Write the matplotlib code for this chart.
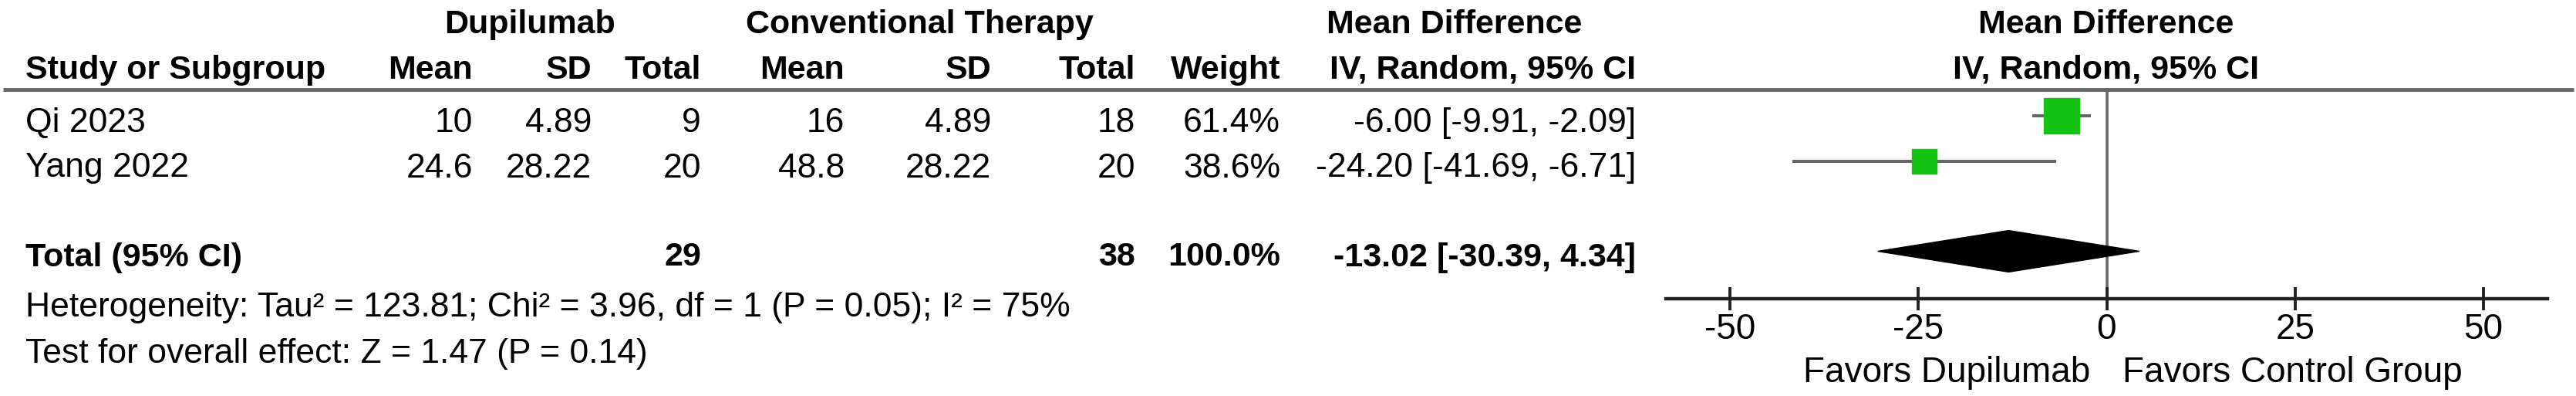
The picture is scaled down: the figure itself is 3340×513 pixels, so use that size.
import matplotlib.pyplot as plt

plt.rcParams['font.family'] = ['Liberation Sans', 'DejaVu Sans']

studies = ['Qi 2023', 'Yang 2022']
dup_mean = [10, 24.6]
dup_sd = [4.89, 28.22]
dup_n = [9, 20]
ctl_mean = [16, 48.8]
ctl_sd = [4.89, 28.22]
ctl_n = [18, 20]
weight = [61.4, 38.6]
md = [-6.00, -24.20]
ci_lo = [-9.91, -41.69]
ci_hi = [-2.09, -6.71]

total_dup = 29
total_ctl = 38
pooled = [-13.02, -30.39, 4.34]
heterogeneity = 'Heterogeneity: Tau² = 123.81; Chi² = 3.96, df = 1 (P = 0.05); I² = 75%'
overall = 'Test for overall effect: Z = 1.47 (P = 0.14)'
xticks = [-50, -25, 0, 25, 50]

W, H = 3341, 513
fig = plt.figure(figsize=(W / 100, H / 100), dpi=100)

# text layer in pixel coordinates
tab = fig.add_axes([0, 0, 1, 1])
tab.set_xlim(0, W)
tab.set_ylim(H, 0)
tab.axis('off')

ROW0, STEP = 150, 58.5   # pixel centre of first study row, row spacing
def ypx(i):
    return ROW0 + STEP * i

HB, RG = 31, 32
col_right = [613, 767, 909, 1095, 1285, 1472, 1660, 2121]

# group headers
tab.text(687, 43, 'Dupilumab', ha='center', va='baseline', fontsize=HB, fontweight='bold')
tab.text(1192, 43, 'Conventional Therapy', ha='center', va='baseline', fontsize=HB, fontweight='bold')
tab.text(1720, 43, 'Mean Difference', ha='left', va='baseline', fontsize=HB, fontweight='bold')
tab.text(2731, 43, 'Mean Difference', ha='center', va='baseline', fontsize=HB, fontweight='bold')

sub = ['Mean', 'SD', 'Total', 'Mean', 'SD', 'Total', 'Weight', 'IV, Random, 95% CI']
tab.text(33, 102, 'Study or Subgroup', ha='left', va='baseline', fontsize=HB, fontweight='bold')
for x, s in zip(col_right, sub):
    tab.text(x, 102, s, ha='right', va='baseline', fontsize=HB, fontweight='bold')
tab.text(2731, 102, 'IV, Random, 95% CI', ha='center', va='baseline', fontsize=HB, fontweight='bold')

tab.plot([4, 3337], [116, 116], color='#6a6a6a', lw=3.6, solid_capstyle='butt')

# study rows
for i, name in enumerate(studies):
    y = ypx(i) + 21
    vals = [f'{dup_mean[i]:g}', f'{dup_sd[i]:g}', f'{dup_n[i]}',
            f'{ctl_mean[i]:g}', f'{ctl_sd[i]:g}', f'{ctl_n[i]}',
            f'{weight[i]:.1f}%', f'{md[i]:.2f} [{ci_lo[i]:.2f}, {ci_hi[i]:.2f}]']
    tab.text(33, y, name, ha='left', va='baseline', fontsize=RG)
    for x, s in zip(col_right, vals):
        tab.text(x, y, s, ha='right', va='baseline', fontsize=RG)

# total row
yt = ypx(3) + 19
tab.text(33, yt, 'Total (95% CI)', ha='left', va='baseline', fontsize=HB, fontweight='bold')
tab.text(col_right[2], yt, f'{total_dup}', ha='right', va='baseline', fontsize=HB, fontweight='bold')
tab.text(col_right[5], yt, f'{total_ctl}', ha='right', va='baseline', fontsize=HB, fontweight='bold')
tab.text(col_right[6], yt, f'{sum(weight):.1f}%', ha='right', va='baseline', fontsize=HB, fontweight='bold')
tab.text(col_right[7], yt, f'{pooled[0]:.2f} [{pooled[1]:.2f}, {pooled[2]:.2f}]',
         ha='right', va='baseline', fontsize=HB, fontweight='bold')

tab.text(33, 410, heterogeneity, ha='left', va='baseline', fontsize=RG)
tab.text(33, 470, overall, ha='left', va='baseline', fontsize=RG)

tab.text(2710, 495, 'Favors Dupilumab', ha='right', va='baseline', fontsize=33)
tab.text(2752, 495, 'Favors Control Group', ha='left', va='baseline', fontsize=33)

# forest plot
top_px, bot_px = 116, 387
ax = fig.add_axes([2160 / W, (H - bot_px) / H, (3303 - 2160) / W, (bot_px - top_px) / H])
ax.set_facecolor('none')
ax.set_xlim(-58.5, 58.5)
ax.set_ylim((bot_px - ROW0) / STEP, (top_px - ROW0) / STEP)
for s in ['top', 'right', 'left']:
    ax.spines[s].set_visible(False)
ax.spines['bottom'].set_color('#222222')
ax.spines['bottom'].set_linewidth(3.2)
ax.set_yticks([])
ax.set_xticks(xticks)
ax.set_xticklabels([f'{t}' for t in xticks])
ax.tick_params(axis='x', direction='inout', length=22, width=2.8, color='#222222',
               labelsize=33, pad=2)

ax.axvline(0, color='#666666', lw=2.6, zorder=1)

for i in range(len(studies)):
    ax.plot([ci_lo[i], ci_hi[i]], [i, i], color='#666666', lw=2.9, zorder=2,
            solid_capstyle='butt')
    ms = 33 * (weight[i] / max(weight)) ** 0.78
    ax.plot(md[i], i, marker='s', ms=ms, color='#14c214', mec='#14c214', zorder=3)

yd = 3
h = 0.46
ax.fill([pooled[1], pooled[0], pooled[2], pooled[0]], [yd, yd - h, yd, yd + h],
        color='black', zorder=3, clip_on=False)

fig.savefig('out.png', dpi=100, facecolor='white')
